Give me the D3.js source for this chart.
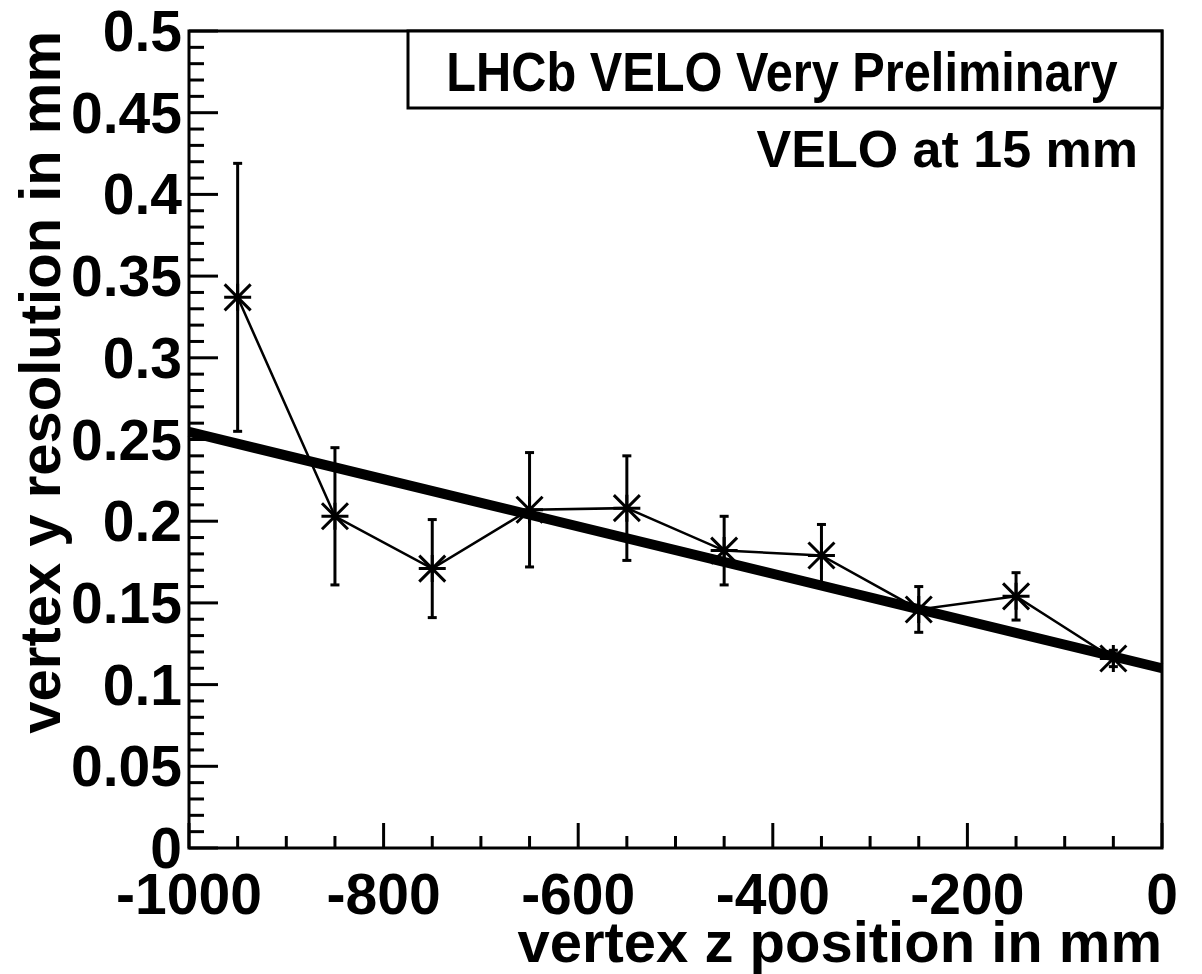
<!DOCTYPE html>
<html>
<head>
<meta charset="utf-8">
<script src="https://cdn.jsdelivr.net/npm/d3@7"></script>
<style>
  html, body { margin: 0; padding: 0; background: #fff; }
  svg { display: block; }
  text { font-family: "Liberation Sans", Arial, Helvetica, sans-serif; font-weight: bold; fill: #000; }
</style>
</head>
<body>
<svg id="chart" width="1202" height="974"></svg>
<script>
// Vertex y resolution vs. vertex z position
const zPos   = [-950, -850, -750, -650, -550, -450, -350, -250, -150, -50];
const resY   = [0.337, 0.203, 0.171, 0.207, 0.208, 0.182, 0.179, 0.146, 0.154, 0.116];
const errY   = [0.082, 0.042, 0.030, 0.035, 0.032, 0.021, 0.019, 0.014, 0.0145, 0.005];

// Straight-line fit, given by its end points
const fitZ   = [-1000, 0];
const fitY   = [0.2546, 0.110];

const xTickLabels = [-1000, -800, -600, -400, -200, 0];
const yTickLabels = [0, 0.05, 0.1, 0.15, 0.2, 0.25, 0.3, 0.35, 0.4, 0.45, 0.5];

const xTitle = "vertex z position in mm";
const yTitle = "vertex y resolution in mm";
const boxText = "LHCb VELO Very Preliminary";
const noteText = "VELO at 15 mm";

const svg = d3.select("#chart");
const L = 189, R = 1162, T = 31, B = 848;

const x = d3.scaleLinear().domain([-1000, 0]).range([L, R]);
const y = d3.scaleLinear().domain([0, 0.5]).range([B, T]);

// Minor ticks
const xMinor = d3.range(-1000, 1, 50).filter(v => v % 200 !== 0);
const yMinor = d3.range(0, 51).map(i => i / 100).filter((v, i) => i % 5 !== 0);

const g = svg.append("g");

// y axis ticks (left)
g.append("g").selectAll("line.ymaj").data(yTickLabels).join("line")
  .attr("x1", L).attr("x2", L + 29)
  .attr("y1", d => y(d)).attr("y2", d => y(d))
  .attr("stroke", "#000").attr("stroke-width", 3);
g.append("g").selectAll("line.ymin").data(yMinor).join("line")
  .attr("x1", L).attr("x2", L + 15)
  .attr("y1", d => y(d)).attr("y2", d => y(d))
  .attr("stroke", "#000").attr("stroke-width", 3);

// x axis ticks (bottom)
g.append("g").selectAll("line.xmaj").data(xTickLabels).join("line")
  .attr("x1", d => x(d)).attr("x2", d => x(d))
  .attr("y1", B).attr("y2", B - 25)
  .attr("stroke", "#000").attr("stroke-width", 3);
g.append("g").selectAll("line.xmin").data(xMinor).join("line")
  .attr("x1", d => x(d)).attr("x2", d => x(d))
  .attr("y1", B).attr("y2", B - 12)
  .attr("stroke", "#000").attr("stroke-width", 3);

// Tick labels
g.append("g").selectAll("text").data(yTickLabels).join("text")
  .attr("x", L - 7).attr("y", d => y(d) + 20)
  .attr("text-anchor", "end").attr("font-size", 57)
  .text(d => d3.format("")(d));
g.append("g").selectAll("text").data(xTickLabels).join("text")
  .attr("x", d => x(d)).attr("y", 914)
  .attr("text-anchor", "middle").attr("font-size", 57)
  .text(d => d);

// Axis titles
svg.append("text").attr("x", R).attr("y", 962)
  .attr("text-anchor", "end").attr("font-size", 58).text(xTitle);
svg.append("text").attr("transform", `translate(60,${T}) rotate(-90)`)
  .attr("text-anchor", "end").attr("font-size", 58).text(yTitle);

// Fit line
svg.append("line")
  .attr("x1", x(fitZ[0])).attr("y1", y(fitY[0]))
  .attr("x2", x(fitZ[1])).attr("y2", y(fitY[1]))
  .attr("stroke", "#000").attr("stroke-width", 10);

const pts = zPos.map((z, i) => ({ z, v: resY[i], e: errY[i] }));

// Connecting polyline
svg.append("path")
  .attr("d", d3.line().x(d => x(d.z)).y(d => y(d.v))(pts))
  .attr("fill", "none").attr("stroke", "#000").attr("stroke-width", 2.5);

// Error bars with caps
const eb = svg.append("g").attr("stroke", "#000").attr("stroke-width", 3);
pts.forEach(d => {
  const cx = x(d.z), t = y(d.v + d.e), b = y(d.v - d.e);
  eb.append("line").attr("x1", cx).attr("x2", cx).attr("y1", t).attr("y2", b);
  eb.append("line").attr("x1", cx - 4.5).attr("x2", cx + 4.5).attr("y1", t).attr("y2", t);
  eb.append("line").attr("x1", cx - 4.5).attr("x2", cx + 4.5).attr("y1", b).attr("y2", b);
});

// Asterisk markers
const mk = svg.append("g").attr("stroke", "#000").attr("stroke-width", 3);
pts.forEach(d => {
  const cx = x(d.z), cy = y(d.v), r = 13.5, q = 13;
  mk.append("path").attr("d",
    `M${cx - r},${cy}H${cx + r}M${cx},${cy - r}V${cy + r}` +
    `M${cx - q},${cy - q}L${cx + q},${cy + q}M${cx - q},${cy + q}L${cx + q},${cy - q}`);
});

// Frame
svg.append("rect").attr("x", L).attr("y", T).attr("width", R - L).attr("height", B - T)
  .attr("fill", "none").attr("stroke", "#000").attr("stroke-width", 3);

// Label box with a horizontally condensed title
svg.append("rect").attr("x", 408).attr("y", T).attr("width", R - 408).attr("height", 108 - T)
  .attr("fill", "#fff").attr("stroke", "#000").attr("stroke-width", 3);
svg.append("text").attr("transform", "translate(782,91) scale(0.87,1)")
  .attr("text-anchor", "middle").attr("font-size", 56).text(boxText);
svg.append("text").attr("x", 1138).attr("y", 167).attr("text-anchor", "end")
  .attr("font-size", 52).text(noteText);
</script>
</body>
</html>
